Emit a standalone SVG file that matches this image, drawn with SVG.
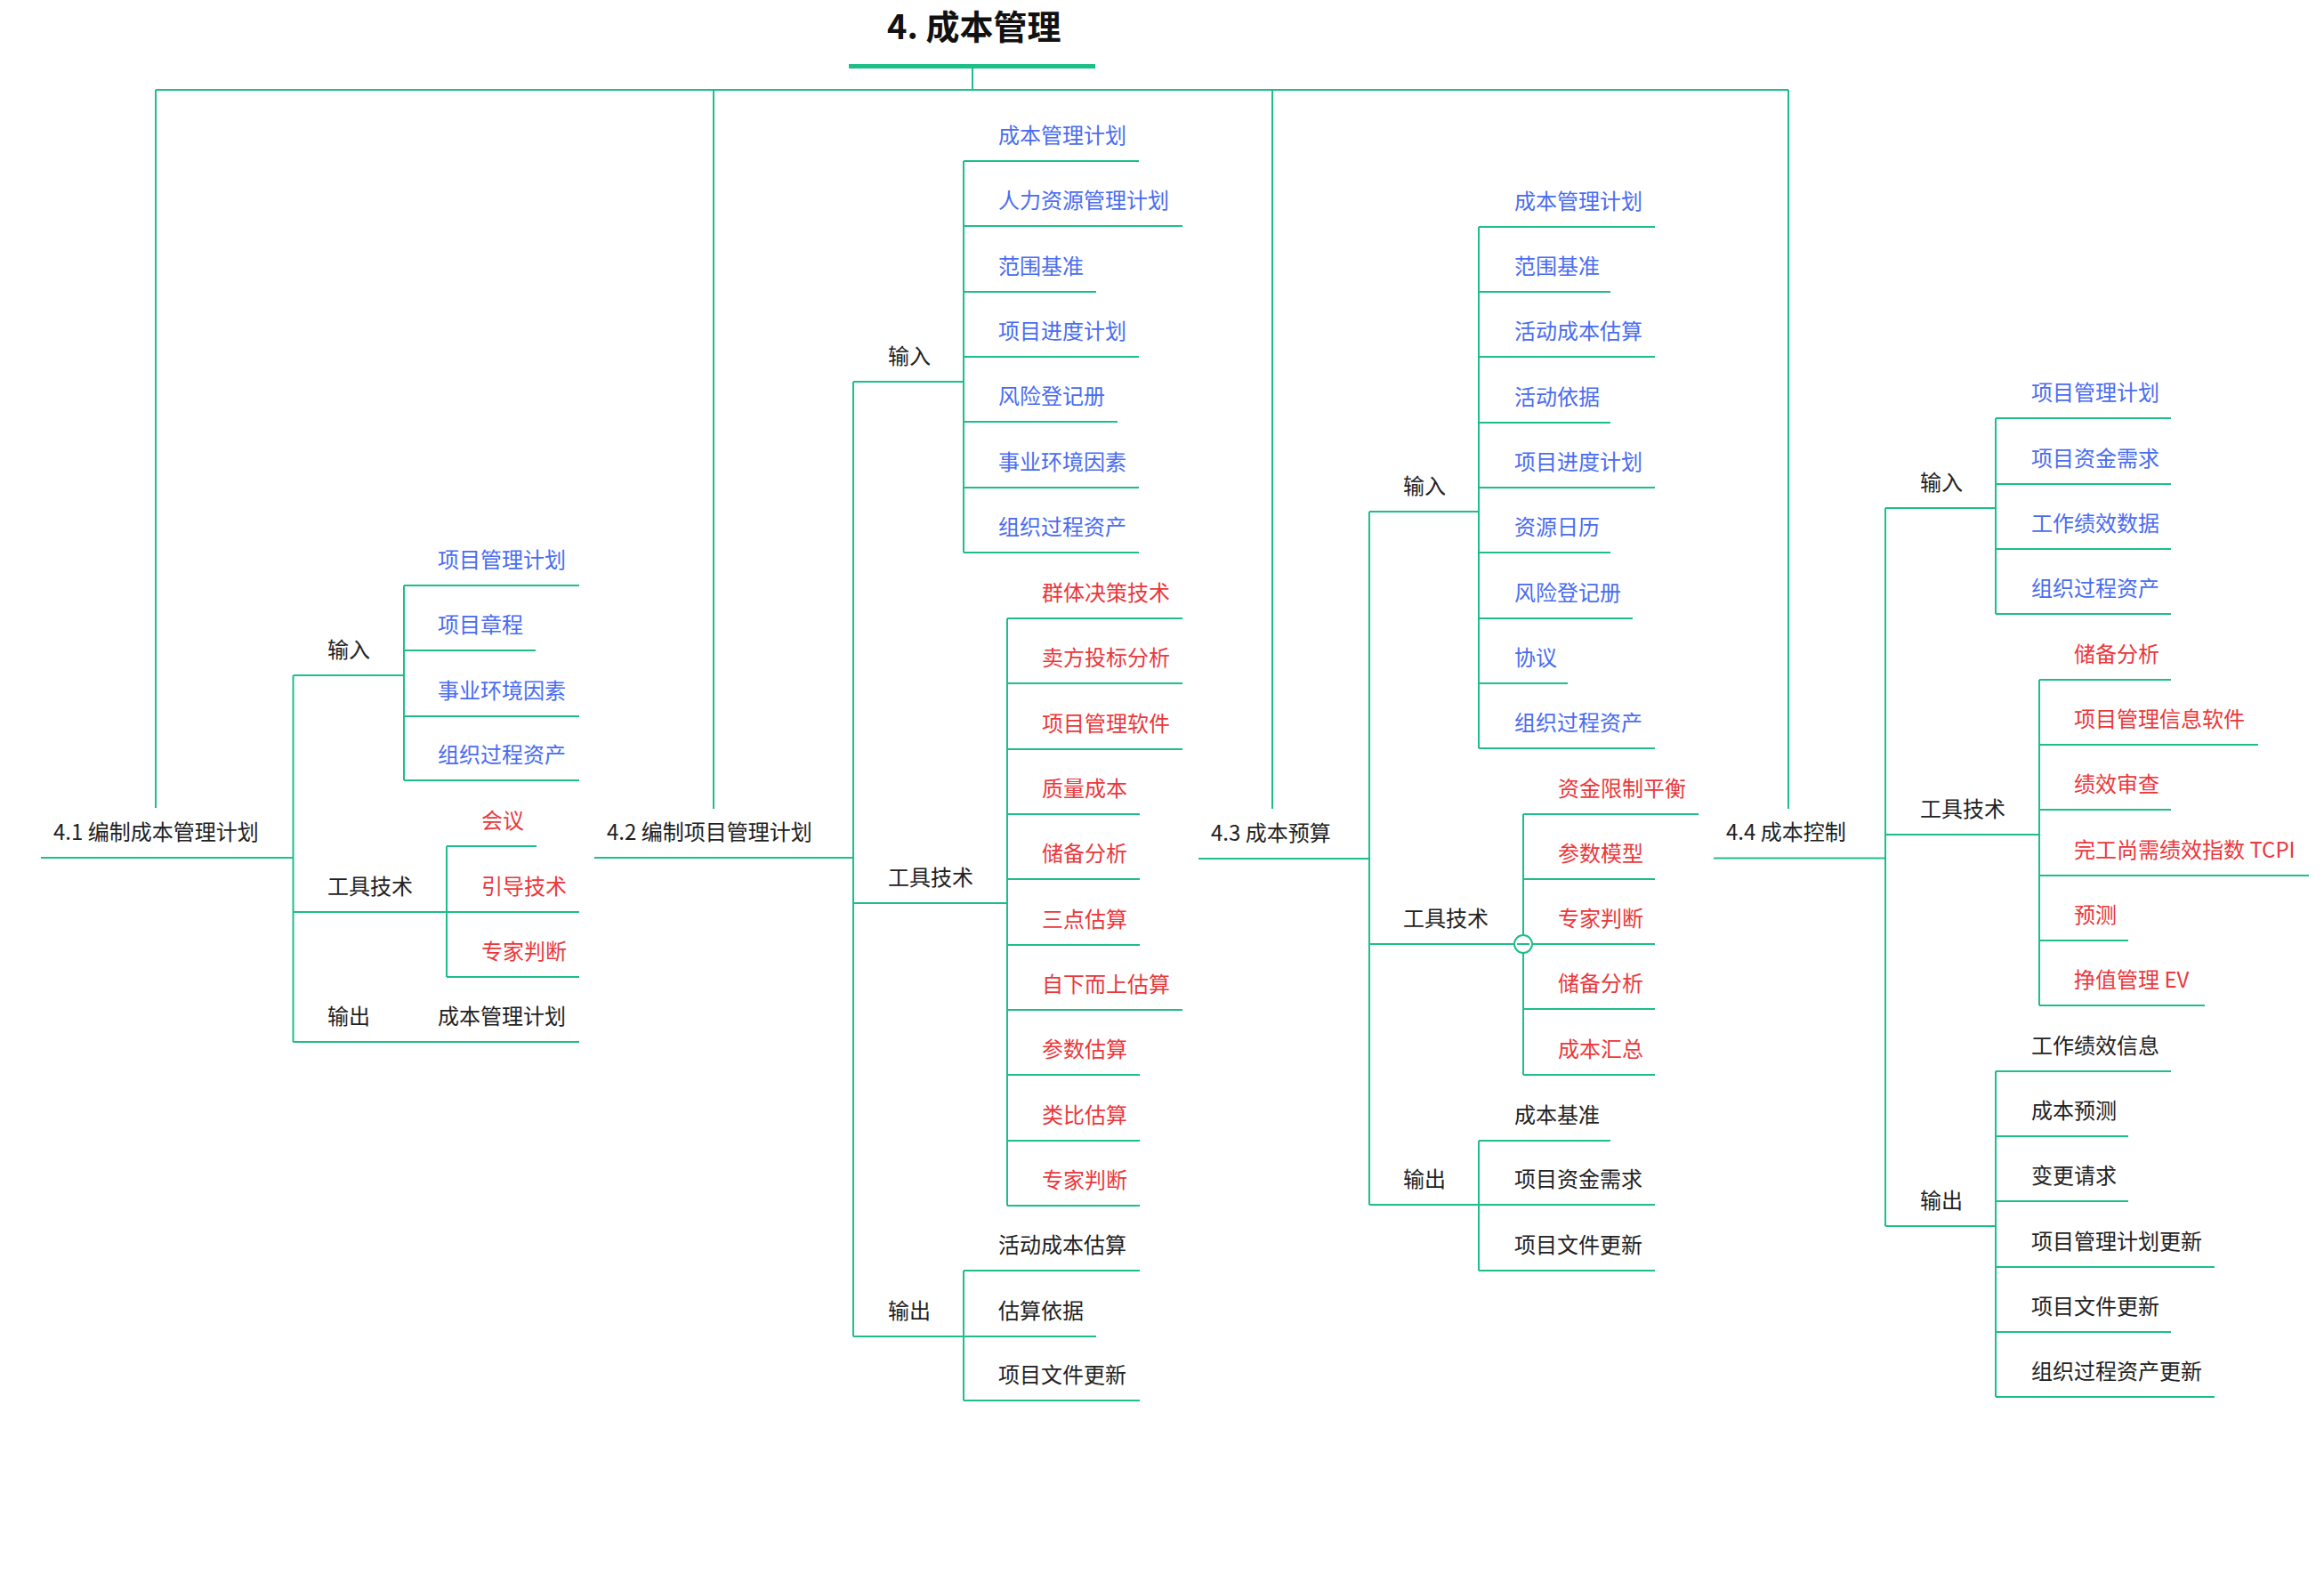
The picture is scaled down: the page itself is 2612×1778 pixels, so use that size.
<svg xmlns="http://www.w3.org/2000/svg" width="2612" height="1778" viewBox="0 0 2612 1778">
<style>
text{font-family:"Noto Sans CJK SC","Noto Sans",sans-serif;font-size:24px;fill:#222}
.t{font-size:38px;font-weight:bold;fill:#111}
.b{fill:#4A6CF0}
.r{fill:#EA383C}
.c path,.c line{stroke:#1DBF87;stroke-width:2;fill:none}
</style>
<rect width="2612" height="1778" fill="#fff"/>
<g id="connectors" class="c">
<line x1="954" y1="74.5" x2="1231" y2="74.5" style="stroke-width:5"/>
<path d="M1093 77V101M175 101H2010M175 101V908M802 101V909M1430 101V909M2010 101V909"/>
<!-- 4.1 -->
<path d="M46 964H329.5M329.5 759V1171M329.5 759H454M454 658V877M454 658H651M454 731H602M454 805H651M454 877H651"/>
<path d="M329.5 1025H651M502 951V1098M502 951H603M502 1098H651M329.5 1171H651"/>
<!-- 4.2 -->
<path d="M668 964H959M959 429V1502M959 429H1083M1083 181V621M1083 181H1280M1083 254H1329M1083 328H1232M1083 401H1280M1083 474H1256M1083 548H1280M1083 621H1280"/>
<path d="M959 1015H1132M1132 695V1355M1132 695H1329M1132 768H1329M1132 842H1329M1132 915H1281M1132 988H1281M1132 1062H1281M1132 1135H1329M1132 1208H1281M1132 1282H1281M1132 1355H1281"/>
<path d="M959 1502H1083M1083 1428V1574M1083 1428H1281M1083 1502H1232M1083 1574H1281"/>
<!-- 4.3 -->
<path d="M1347 965H1539M1539 575V1354M1539 575H1662M1662 255V841M1662 255H1860M1662 328H1810M1662 401H1860M1662 475H1810M1662 548H1860M1662 621H1810M1662 695H1835M1662 768H1762M1662 841H1860"/>
<path d="M1539 1061H1860M1712 915V1208M1712 915H1909M1712 988H1860M1712 1134H1860M1712 1208H1860"/>
<path d="M1539 1354H1662M1662 1282V1428M1662 1282H1810M1662 1354H1860M1662 1428H1860"/>
<circle cx="1712" cy="1061" r="10" style="stroke:#1DBF87;stroke-width:2;fill:#fff"/>
<line x1="1705" y1="1061" x2="1719" y2="1061"/>
<!-- 4.4 -->
<path d="M1926 964.5H2119M2119 571V1378M2119 571H2243M2243 470V690M2243 470H2440M2243 544H2440M2243 617H2440M2243 690H2440"/>
<path d="M2119 938H2292M2292 764V1130M2292 764H2440M2292 837H2538M2292 910H2440M2292 984H2595M2292 1057H2392M2292 1130H2478"/>
<path d="M2119 1378H2243M2243 1204V1570M2243 1204H2440M2243 1277H2392M2243 1350H2392M2243 1424H2489M2243 1497H2440M2243 1570H2489"/>
</g>
<g id="title"><text class="t" x="997" y="44">4. 成本管理</text></g>

<g id="n41"><text x="60" y="944">4.1 编制成本管理计划</text></g>
<g id="n41-in"><text x="368" y="739">输入</text></g>
<g id="n41-in-1"><text class="b" x="492" y="638">项目管理计划</text></g>
<g id="n41-in-2"><text class="b" x="492" y="711">项目章程</text></g>
<g id="n41-in-3"><text class="b" x="492" y="785">事业环境因素</text></g>
<g id="n41-in-4"><text class="b" x="492" y="857">组织过程资产</text></g>
<g id="n41-tt"><text x="368" y="1005">工具技术</text></g>
<g id="n41-tt-1"><text class="r" x="541" y="931">会议</text></g>
<g id="n41-tt-2"><text class="r" x="541" y="1005">引导技术</text></g>
<g id="n41-tt-3"><text class="r" x="541" y="1078">专家判断</text></g>
<g id="n41-out"><text x="368" y="1151">输出</text></g>
<g id="n41-out-1"><text x="492" y="1151">成本管理计划</text></g>

<g id="n42"><text x="682" y="944">4.2 编制项目管理计划</text></g>
<g id="n42-in"><text x="998" y="409">输入</text></g>
<g id="n42-in-1"><text class="b" x="1122" y="161">成本管理计划</text></g>
<g id="n42-in-2"><text class="b" x="1122" y="234">人力资源管理计划</text></g>
<g id="n42-in-3"><text class="b" x="1122" y="308">范围基准</text></g>
<g id="n42-in-4"><text class="b" x="1122" y="381">项目进度计划</text></g>
<g id="n42-in-5"><text class="b" x="1122" y="454">风险登记册</text></g>
<g id="n42-in-6"><text class="b" x="1122" y="528">事业环境因素</text></g>
<g id="n42-in-7"><text class="b" x="1122" y="601">组织过程资产</text></g>
<g id="n42-tt"><text x="998" y="995">工具技术</text></g>
<g id="n42-tt-1"><text class="r" x="1171" y="675">群体决策技术</text></g>
<g id="n42-tt-2"><text class="r" x="1171" y="748">卖方投标分析</text></g>
<g id="n42-tt-3"><text class="r" x="1171" y="822">项目管理软件</text></g>
<g id="n42-tt-4"><text class="r" x="1171" y="895">质量成本</text></g>
<g id="n42-tt-5"><text class="r" x="1171" y="968">储备分析</text></g>
<g id="n42-tt-6"><text class="r" x="1171" y="1042">三点估算</text></g>
<g id="n42-tt-7"><text class="r" x="1171" y="1115">自下而上估算</text></g>
<g id="n42-tt-8"><text class="r" x="1171" y="1188">参数估算</text></g>
<g id="n42-tt-9"><text class="r" x="1171" y="1262">类比估算</text></g>
<g id="n42-tt-10"><text class="r" x="1171" y="1335">专家判断</text></g>
<g id="n42-out"><text x="998" y="1482">输出</text></g>
<g id="n42-out-1"><text x="1122" y="1408">活动成本估算</text></g>
<g id="n42-out-2"><text x="1122" y="1482">估算依据</text></g>
<g id="n42-out-3"><text x="1122" y="1554">项目文件更新</text></g>

<g id="n43"><text x="1361" y="945">4.3 成本预算</text></g>
<g id="n43-in"><text x="1577" y="555">输入</text></g>
<g id="n43-in-1"><text class="b" x="1702" y="235">成本管理计划</text></g>
<g id="n43-in-2"><text class="b" x="1702" y="308">范围基准</text></g>
<g id="n43-in-3"><text class="b" x="1702" y="381">活动成本估算</text></g>
<g id="n43-in-4"><text class="b" x="1702" y="455">活动依据</text></g>
<g id="n43-in-5"><text class="b" x="1702" y="528">项目进度计划</text></g>
<g id="n43-in-6"><text class="b" x="1702" y="601">资源日历</text></g>
<g id="n43-in-7"><text class="b" x="1702" y="675">风险登记册</text></g>
<g id="n43-in-8"><text class="b" x="1702" y="748">协议</text></g>
<g id="n43-in-9"><text class="b" x="1702" y="821">组织过程资产</text></g>
<g id="n43-tt"><text x="1577" y="1041">工具技术</text></g>
<g id="n43-tt-1"><text class="r" x="1751" y="895">资金限制平衡</text></g>
<g id="n43-tt-2"><text class="r" x="1751" y="968">参数模型</text></g>
<g id="n43-tt-3"><text class="r" x="1751" y="1041">专家判断</text></g>
<g id="n43-tt-4"><text class="r" x="1751" y="1114">储备分析</text></g>
<g id="n43-tt-5"><text class="r" x="1751" y="1188">成本汇总</text></g>
<g id="n43-out"><text x="1577" y="1334">输出</text></g>
<g id="n43-out-1"><text x="1702" y="1262">成本基准</text></g>
<g id="n43-out-2"><text x="1702" y="1334">项目资金需求</text></g>
<g id="n43-out-3"><text x="1702" y="1408">项目文件更新</text></g>

<g id="n44"><text x="1940" y="944">4.4 成本控制</text></g>
<g id="n44-in"><text x="2158" y="551">输入</text></g>
<g id="n44-in-1"><text class="b" x="2283" y="450">项目管理计划</text></g>
<g id="n44-in-2"><text class="b" x="2283" y="524">项目资金需求</text></g>
<g id="n44-in-3"><text class="b" x="2283" y="597">工作绩效数据</text></g>
<g id="n44-in-4"><text class="b" x="2283" y="670">组织过程资产</text></g>
<g id="n44-tt"><text x="2158" y="918">工具技术</text></g>
<g id="n44-tt-1"><text class="r" x="2331" y="744">储备分析</text></g>
<g id="n44-tt-2"><text class="r" x="2331" y="817">项目管理信息软件</text></g>
<g id="n44-tt-3"><text class="r" x="2331" y="890">绩效审查</text></g>
<g id="n44-tt-4"><text class="r" x="2331" y="964">完工尚需绩效指数 TCPI</text></g>
<g id="n44-tt-5"><text class="r" x="2331" y="1037">预测</text></g>
<g id="n44-tt-6"><text class="r" x="2331" y="1110">挣值管理 EV</text></g>
<g id="n44-out"><text x="2158" y="1358">输出</text></g>
<g id="n44-out-1"><text x="2283" y="1184">工作绩效信息</text></g>
<g id="n44-out-2"><text x="2283" y="1257">成本预测</text></g>
<g id="n44-out-3"><text x="2283" y="1330">变更请求</text></g>
<g id="n44-out-4"><text x="2283" y="1404">项目管理计划更新</text></g>
<g id="n44-out-5"><text x="2283" y="1477">项目文件更新</text></g>
<g id="n44-out-6"><text x="2283" y="1550">组织过程资产更新</text></g>
</svg>
